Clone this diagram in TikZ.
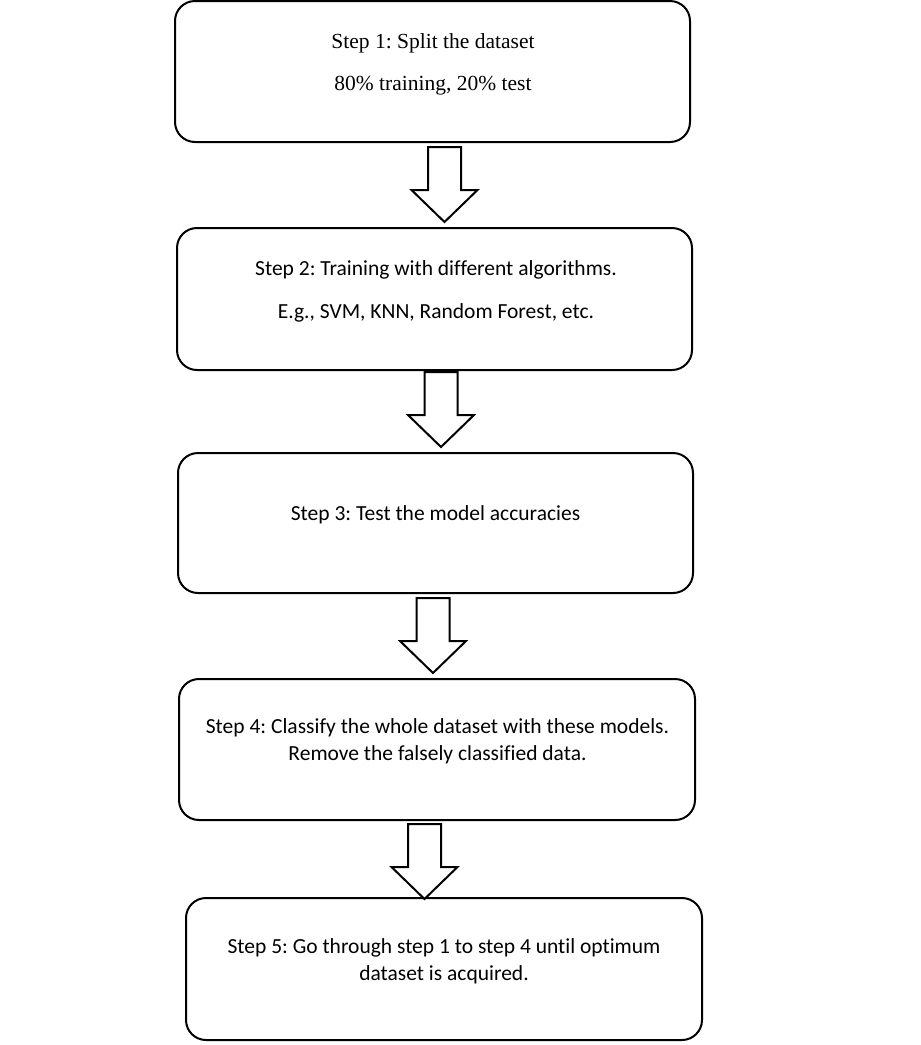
\documentclass[tikz,border=0pt]{standalone}
\usepackage{fontspec}
\newfontfamily\serifface[Ligatures={NoCommon,NoContextual}]{Liberation Serif}
\newfontfamily\calibface[Ligatures={NoCommon,NoContextual}]{Carlito}
\frenchspacing
\begin{document}
\begin{tikzpicture}[x=1pt,y=-1pt,
  stepbox/.style={draw=black,line width=2pt,rounded corners=20pt,inner sep=0pt},
  arrowline/.style={draw=black,fill=white,line width=2pt,line join=miter},
  sertext/.style={align=center,font=\fontsize{21.5}{42}\serifface},
  caltext/.style={align=center,font=\fontsize{21.5}{27}\calibface},
  blockarrow/.pic={\path[arrowline] (-16.5,0) -- (16.5,0) -- (16.5,43) -- (33,43) -- (0,75) -- (-33,43) -- (-16.5,43) -- cycle;}]
\useasboundingbox[fill=white] (0,0) rectangle (921,1045);
% boxes
\node[stepbox,minimum width=515pt,minimum height=141pt] (b1) at (432.5,71.5) {};
\node[stepbox,minimum width=515pt,minimum height=142pt] (b2) at (434.5,299) {};
\node[stepbox,minimum width=515pt,minimum height=140pt] (b3) at (435.5,523) {};
\node[stepbox,minimum width=516pt,minimum height=141pt] (b4) at (437,749.5) {};
\node[stepbox,minimum width=516pt,minimum height=142pt] (b5) at (444,969) {};
% texts
\node[sertext] (t1) at (433,64) {Step 1: Split the dataset\\80\% training, 20\% test};
\node[caltext,font=\fontsize{21.5}{43}\calibface] (t2) at (436,291.5) {Step 2: Training with different algorithms.\\E.g., SVM, KNN, Random Forest, etc.};
\node[caltext] (t3) at (435.5,515) {Step 3: Test the model accuracies};
\node[caltext] (t4) at (437.5,741.5) {Step 4: Classify the whole dataset with these models.\\Remove the falsely classified data.};
\node[caltext] (t5) at (444,961) {Step 5: Go through step 1 to step 4 until optimum\\dataset is acquired.};
% block arrows
\pic at (444.5,147) {blockarrow};
\pic at (441,372) {blockarrow};
\pic at (433,598) {blockarrow};
\pic at (424.5,824) {blockarrow};
\end{tikzpicture}
\end{document}
